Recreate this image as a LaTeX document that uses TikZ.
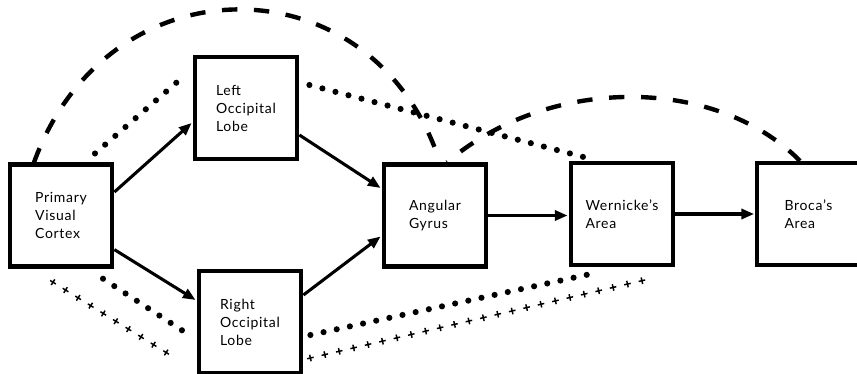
\documentclass[tikz,border=0pt]{standalone}
\usepackage{fontspec}
\setmainfont{Lato}[LetterSpace=5.0]
\usetikzlibrary{arrows.meta,calc,decorations.markings}
\tikzset{
  area/.style={draw, line width=3.2pt, fill=white, minimum width=76.9pt, minimum height=76.5pt,
    align=left, inner sep=0pt, font=\fontsize{10.5}{13.5}\selectfont},
  arr/.style={line width=2.3pt, -{Triangle[length=9.5pt,width=7.5pt]}},
  dashpath/.style={line width=3.3pt, dash pattern=on 11.5pt off 12.5pt},
  dotpath/.style={line width=4.6pt, line cap=round, dash pattern=on 0pt off 10.1pt},
  pluspath/.style={postaction={decorate}, decoration={markings,
    mark=between positions 0 and 1 step 11.1pt with {\draw[line width=1.1pt] (-2.5pt,0)--(2.5pt,0) (0,-2.5pt)--(0,2.5pt);}}}
}
\begin{document}
\begin{tikzpicture}[x=0.75pt,y=-0.75pt]
\useasboundingbox (0,0) rectangle (857,374);
% boxes
\node[area] (pvc) at (61,215.6) {Primary\\Visual\\Cortex};
\node[area] (lol) at (246,108) {Left\\Occipital\\Lobe};
\node[area] (rol) at (250,322) {Right\\Occipital\\Lobe};
\node[area] (ag) at (435,215.5) {Angular\\Gyrus};
\node[area] (wa) at (622,214) {Wernicke's\\Area};
\node[area] (ba) at (808.5,214) {Broca's\\Area};
% solid arrows
\draw[arr] ($(pvc.east)+(0,-23.6)$) -- ($(lol.west)+(-1,15)$);
\draw[arr] ($(pvc.east)+(0,34)$) -- ($(rol.west)+(-1,-22)$);
\draw[arr] ($(lol.east)+(0,27)$) -- ($(ag.west)+(-1,-27.5)$);
\draw[arr] ($(rol.east)+(0,-27)$) -- ($(ag.west)+(-1,21)$);
\draw[arr] (ag.east) -- ($(ag.east -| wa.west)+(-1,0)$);
\draw[arr] (wa.east) -- ($(wa.east -| ba.west)+(-1,0)$);
% dashed curves
\draw[dashpath] ($(pvc.north)+(-27,0)$) .. controls +(74,-205) and +(-66,-203) .. ($(ag.north)+(5,0)$);
\draw[dashpath] ($(ba.north)+(-8.5,0)$) .. controls +(-85,-85.5) and +(102,-87) .. ($(ag.north)+(12,0)$);
% dotted paths
\draw[dotpath] ($(pvc.north)+(34,-9)$) -- ($(lol.west)+(-12,-29)$);
\draw[dotpath] ($(lol.east)+(10,-23)$) -- ($(wa.north)+(-39,-4)$);
\draw[dotpath] ($(pvc.south)+(42,10)$) -- ($(rol.west)+(-12,10)$);
\draw[dotpath] ($(rol.east)+(7,13)$) -- ($(wa.south)+(-32,7)$);
% plus paths
\path[pluspath] ($(pvc.south)+(-8,13.5)$) -- ($(rol.west)+(-20,37)$);
\path[pluspath] ($(rol.east)+(7,36)$) -- ($(wa.south)+(31,11)$);
\end{tikzpicture}
\end{document}
